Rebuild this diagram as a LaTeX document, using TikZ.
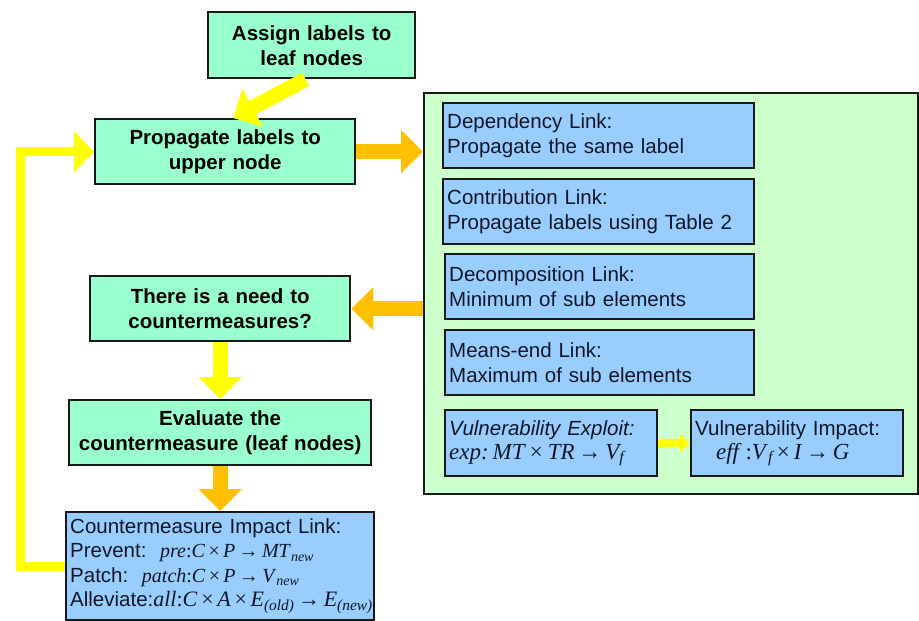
\documentclass[tikz,border=0pt]{standalone}
\usepackage{fontspec}
\setmainfont{Liberation Sans}
\newfontfamily\formfont{Liberation Serif}
\usetikzlibrary{arrows.meta,calc}
\definecolor{mint}{HTML}{99FFCC}
\definecolor{sky}{HTML}{99CCFF}
\definecolor{pale}{HTML}{CCFFCC}
\definecolor{amber}{HTML}{FFC000}
\definecolor{lemon}{HTML}{FFFF00}
\definecolor{ink}{HTML}{101828}
% formulas in a Times-like serif: \formula{size}{content}
\newcommand{\formula}[2]{\mbox{\formfont\fontsize{#1}{24}\selectfont #2}}
\newcommand{\vv}[1]{\textit{#1}}
\newcommand{\low}[1]{\textsubscript{\itshape #1}}
\newcommand{\tms}{\,×\,}
\newcommand{\goes}{\,→\,}
\begin{document}
\begin{tikzpicture}[x=1pt,y=-1pt,
  stepbox/.style={draw=black!90, line width=2.4pt, fill=mint, text=black,
    font=\bfseries\fontsize{20.5}{25}\selectfont, align=center,
    anchor=north west, inner sep=0pt},
  linkbox/.style={draw=black!90, line width=2.4pt, fill=sky, text=ink,
    font=\fontsize{20.5}{25}\selectfont, align=left,
    anchor=north west, inner xsep=4pt, inner ysep=0pt},
  holder/.style={draw=black!90, line width=2pt, fill=pale, anchor=north west, inner sep=0pt},
  bigyellow/.style={lemon, line width=15pt, -{Triangle[width=42pt,length=22pt]}},
  bigamber/.style={amber, line width=15pt, -{Triangle[width=42pt,length=22pt]}},
  loopline/.style={lemon, line width=9pt, line join=miter, -{Triangle[width=40pt,length=20pt]}},
  smallyellow/.style={lemon, line width=8pt, -{Triangle[width=18pt,length=10pt]}}
]
\useasboundingbox[fill=white] (0,0) rectangle (919,621);

% right-hand panel with the link rules
\node[holder, minimum width=494, minimum height=401] (panel) at (423,92) {};
\node[linkbox, minimum width=311, minimum height=65, text width=303] (dep) at (442,102)
  {Dependency Link:\\Propagate the same label};
\node[linkbox, minimum width=311, minimum height=65, text width=303] (con) at (442,178)
  {Contribution Link:\\Propagate labels using Table 2};
\node[linkbox, minimum width=309, minimum height=65, text width=301] (dec) at (444,253)
  {Decomposition Link:\\Minimum of sub elements};
\node[linkbox, minimum width=309, minimum height=65, text width=301] (mea) at (444,329)
  {Means-end Link:\\Maximum of sub elements};
\node[linkbox, minimum width=212, minimum height=66, text width=204] (exp) at (444,409)
  {\itshape Vulnerability Exploit:\\[-1pt]
   \formula{23}{\vv{exp}:\,\vv{MT}\tms\vv{TR}\goes\vv{V}\low{f}}};
\node[linkbox, minimum width=212, minimum height=66, text width=204] (imp) at (690,409)
  {Vulnerability Impact:\\[-1pt]\hspace*{14pt}
   \formula{23}{\vv{eff}\,:\vv{V}\low{f}\tms\vv{I}\goes\vv{G}}};

% main flow
\node[stepbox, minimum width=207, minimum height=66, text width=200] (assign) at (207,11)
  {Assign labels to\\leaf nodes};
\node[stepbox, minimum width=260, minimum height=65, text width=250] (prop) at (94,118)
  {Propagate labels to\\upper node};
\node[stepbox, minimum width=260, minimum height=65, text width=250] (need) at (89,275)
  {There is a need to\\countermeasures?};
\node[stepbox, minimum width=302, minimum height=65, text width=298] (eval) at (68,399)
  {Evaluate the\\countermeasure (leaf nodes)};
\node[linkbox, minimum width=308, minimum height=108, text width=300,
      font=\fontsize{20.5}{24.5}\selectfont] (cm) at (65,511)
  {Countermeasure Impact Link:\\
   Prevent:\ \ \formula{20}{\vv{pre}:\vv{C}\tms\vv{P}\goes\vv{MT}\low{new}}\\
   Patch:\ \ \formula{20}{\vv{patch}:\vv{C}\tms\vv{P}\goes\vv{V}\low{new}}\\
   Alleviate:\formula{22}{\vv{all}:\vv{C}\tms\vv{A}\tms\vv{E}\low{(old)}\goes\vv{E}\low{(new)}}};

\coordinate (loopx) at (20,0);

% connectors
\draw[bigyellow] ([xshift=-6pt]assign.south) -- ([xshift=8pt]prop.north);
\draw[bigamber] (prop.east) -- (panel.west |- prop.east);
\draw[bigamber] (panel.west |- need.east) -- (need.east);
\draw[bigyellow] (need.south) -- (eval.north);
\draw[bigamber] (eval.south) -- (cm.north);
\draw[loopline] (cm.west) -| (loopx |- prop.west) -- (prop.west);
\draw[smallyellow] (exp.east) -- (imp.west);
\end{tikzpicture}
\end{document}
